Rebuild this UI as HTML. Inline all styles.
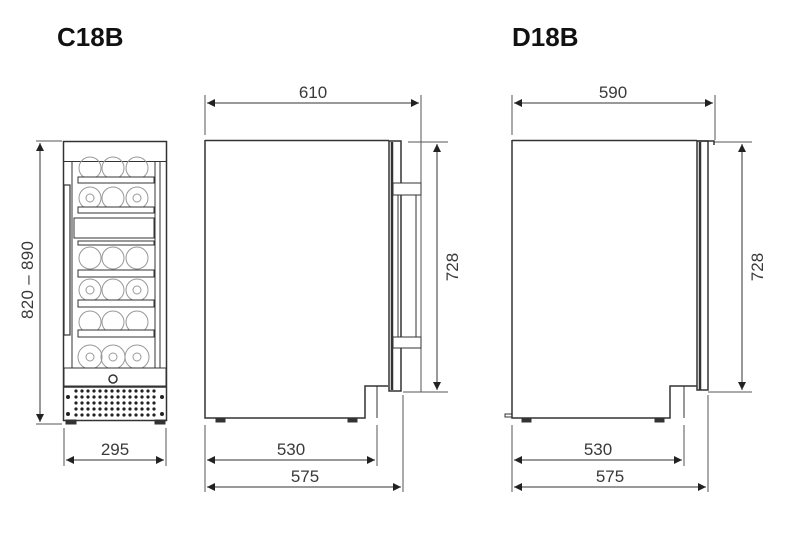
<!DOCTYPE html>
<html><head><meta charset="utf-8"><style>
html,body{margin:0;padding:0;background:#fff;width:800px;height:547px;overflow:hidden}
svg{display:block}
text{font-family:"Liberation Sans",sans-serif}
.d{font-size:17px;fill:#3a3a3a}
</style></head><body>
<svg width="800" height="547" viewBox="0 0 800 547" xmlns="http://www.w3.org/2000/svg">
<defs>
<marker id="a" viewBox="0 0 10 10" refX="10" refY="5" markerWidth="14" markerHeight="8" markerUnits="userSpaceOnUse" orient="auto-start-reverse"><path d="M0,0 L10,5 L0,10 z" fill="#222"/></marker>
</defs>
<text x="57" y="46" font-size="26" font-weight="bold" fill="#111">C18B</text>
<text x="512" y="46" font-size="26" font-weight="bold" fill="#111">D18B</text>

<g stroke="#555" stroke-width="1" fill="none">
<!-- front dims -->
<line x1="36" y1="141" x2="62" y2="141"/><line x1="36" y1="424" x2="62" y2="424"/>
<line x1="40" y1="143" x2="40" y2="422" stroke="#333" marker-start="url(#a)" marker-end="url(#a)"/>
<line x1="64" y1="428" x2="64" y2="466"/><line x1="166" y1="428" x2="166" y2="466"/>
<line x1="66" y1="460" x2="164" y2="460" stroke="#333" marker-start="url(#a)" marker-end="url(#a)"/>
<!-- C side dims -->
<line x1="205" y1="95" x2="205" y2="135"/><line x1="421" y1="95" x2="421" y2="392"/>
<line x1="207" y1="103" x2="419" y2="103" stroke="#333" marker-start="url(#a)" marker-end="url(#a)"/>
<line x1="408" y1="142" x2="448" y2="142"/><line x1="403" y1="392" x2="448" y2="392"/>
<line x1="437" y1="144" x2="437" y2="390" stroke="#333" marker-start="url(#a)" marker-end="url(#a)"/>
<line x1="205" y1="425" x2="205" y2="492"/><line x1="377" y1="425" x2="377" y2="466"/><line x1="403" y1="395" x2="403" y2="492"/>
<line x1="207" y1="460" x2="375" y2="460" stroke="#333" marker-start="url(#a)" marker-end="url(#a)"/>
<line x1="207" y1="487" x2="401" y2="487" stroke="#333" marker-start="url(#a)" marker-end="url(#a)"/>
<!-- D side dims -->
<line x1="512" y1="95" x2="512" y2="135"/><line x1="715" y1="95" x2="715" y2="140"/>
<line x1="514" y1="103" x2="713" y2="103" stroke="#333" marker-start="url(#a)" marker-end="url(#a)"/>
<line x1="714" y1="142" x2="752" y2="142"/><line x1="708" y1="392" x2="752" y2="392"/>
<line x1="742" y1="144" x2="742" y2="390" stroke="#333" marker-start="url(#a)" marker-end="url(#a)"/>
<line x1="512" y1="425" x2="512" y2="492"/><line x1="684" y1="425" x2="684" y2="466"/><line x1="708" y1="395" x2="708" y2="492"/>
<line x1="514" y1="460" x2="682" y2="460" stroke="#333" marker-start="url(#a)" marker-end="url(#a)"/>
<line x1="514" y1="487" x2="706" y2="487" stroke="#333" marker-start="url(#a)" marker-end="url(#a)"/>
</g>

<text class="d" x="313" y="98" text-anchor="middle">610</text>
<text class="d" x="613" y="98" text-anchor="middle">590</text>
<text class="d" x="115" y="455" text-anchor="middle">295</text>
<text class="d" x="291" y="455" text-anchor="middle">530</text>
<text class="d" x="305" y="482" text-anchor="middle">575</text>
<text class="d" x="598" y="455" text-anchor="middle">530</text>
<text class="d" x="610" y="482" text-anchor="middle">575</text>
<text class="d" transform="translate(458,267) rotate(-90)" text-anchor="middle">728</text>
<text class="d" transform="translate(763,267) rotate(-90)" text-anchor="middle">728</text>
<text class="d" transform="translate(33,280) rotate(-90)" text-anchor="middle" textLength="78">820 – 890</text>

<!-- Front view -->
<g stroke="#333" fill="none" stroke-width="1">
<rect x="63.5" y="141.5" width="103" height="279" stroke-width="1.5"/>
<rect x="63.5" y="141.5" width="103" height="20"/>
<line x1="72" y1="162" x2="72" y2="368"/><line x1="160" y1="162" x2="160" y2="368"/><line x1="155" y1="162" x2="155" y2="368"/>
<rect x="64" y="185" width="6" height="150" stroke-width="1.2"/>
<g stroke="#999">
<circle cx="90" cy="168" r="11"/><circle cx="113" cy="168" r="11"/><circle cx="137" cy="168" r="11"/>
<circle cx="90" cy="198" r="11"/><circle cx="113" cy="198" r="11"/><circle cx="137" cy="198" r="11"/>
<circle cx="90" cy="258" r="11"/><circle cx="113" cy="258" r="11"/><circle cx="137" cy="258" r="11"/>
<circle cx="90" cy="290" r="11"/><circle cx="113" cy="290" r="11"/><circle cx="137" cy="290" r="11"/>
<circle cx="90" cy="322" r="11"/><circle cx="113" cy="322" r="11"/><circle cx="137" cy="322" r="11"/>
<circle cx="90" cy="357" r="12"/><circle cx="113" cy="357" r="12"/><circle cx="137" cy="357" r="12"/>
<circle cx="90" cy="198" r="4"/><circle cx="137" cy="198" r="4"/><circle cx="90" cy="290" r="4"/><circle cx="137" cy="290" r="4"/><circle cx="90" cy="357" r="4"/><circle cx="113" cy="357" r="4"/><circle cx="137" cy="357" r="4"/>
</g>
<g fill="#fff">
<rect x="78" y="177" width="76" height="6"/><rect x="78" y="207" width="76" height="6"/>
<rect x="74" y="218" width="80" height="20"/><rect x="78" y="241" width="76" height="4"/>
<rect x="78" y="270" width="76" height="7"/><rect x="78" y="300" width="76" height="7"/><rect x="78" y="330" width="76" height="7"/>
</g>
<rect x="64" y="368" width="102" height="18" fill="#fff"/>
<circle cx="113" cy="379" r="4" stroke-width="1.5"/>
<line x1="64" y1="387" x2="166" y2="387" stroke-width="1.5"/>
<rect x="66" y="420" width="10" height="4" fill="#333"/><rect x="155" y="420" width="10" height="4" fill="#333"/>
</g>
<g fill="#222">
<g id="r"><circle cx="76" cy="391" r="1.6"/><circle cx="82" cy="391" r="1.6"/><circle cx="88" cy="391" r="1.6"/><circle cx="94" cy="391" r="1.6"/><circle cx="100" cy="391" r="1.6"/><circle cx="106" cy="391" r="1.6"/><circle cx="112" cy="391" r="1.6"/><circle cx="118" cy="391" r="1.6"/><circle cx="124" cy="391" r="1.6"/><circle cx="130" cy="391" r="1.6"/><circle cx="136" cy="391" r="1.6"/><circle cx="142" cy="391" r="1.6"/><circle cx="148" cy="391" r="1.6"/><circle cx="154" cy="391" r="1.6"/></g>
<use href="#r" y="6"/><use href="#r" y="12"/><use href="#r" y="18"/><use href="#r" y="24"/>
<circle cx="68" cy="397" r="2"/><circle cx="162" cy="397" r="2"/><circle cx="68" cy="414" r="2"/><circle cx="162" cy="414" r="2"/>
</g>

<!-- C side view -->
<g stroke="#333" fill="none" stroke-width="1.5">
<path d="M205,140.5 H389 M205,140 V418 H365 V386 H388"/>
<path d="M365,386 V418 M377,386 V418" stroke-width="1"/>
<rect x="389" y="141" width="12" height="250" fill="#fff"/>
<line x1="392" y1="142" x2="392" y2="390" stroke-width="2.5"/>
<rect x="393" y="183" width="28" height="12" fill="#fff" stroke-width="1"/>
<rect x="393" y="337" width="28" height="11" fill="#fff" stroke-width="1"/>
<line x1="416" y1="195" x2="416" y2="337" stroke-width="1"/>
<line x1="398" y1="195" x2="398" y2="337" stroke-width="1"/>
<rect x="216" y="418" width="9" height="4" fill="#333" stroke-width="1"/>
<rect x="348" y="418" width="9" height="4" fill="#333" stroke-width="1"/>
</g>

<!-- D side view -->
<g stroke="#333" fill="none" stroke-width="1.5">
<path d="M512,140.5 H697 M512,140 V418 H670 V386 H697"/>
<path d="M684,386 V418" stroke-width="1"/>
<rect x="697" y="141" width="11" height="249" fill="#fff"/>
<line x1="700" y1="142" x2="700" y2="390" stroke-width="2.5"/>
<path d="M697,141 H714 V145" stroke-width="1.5"/>
<rect x="505" y="414" width="7" height="3" stroke-width="1"/>
<rect x="522" y="418" width="9" height="4" fill="#333" stroke-width="1"/>
<rect x="655" y="418" width="9" height="4" fill="#333" stroke-width="1"/>
</g>
</svg>
</body></html>
